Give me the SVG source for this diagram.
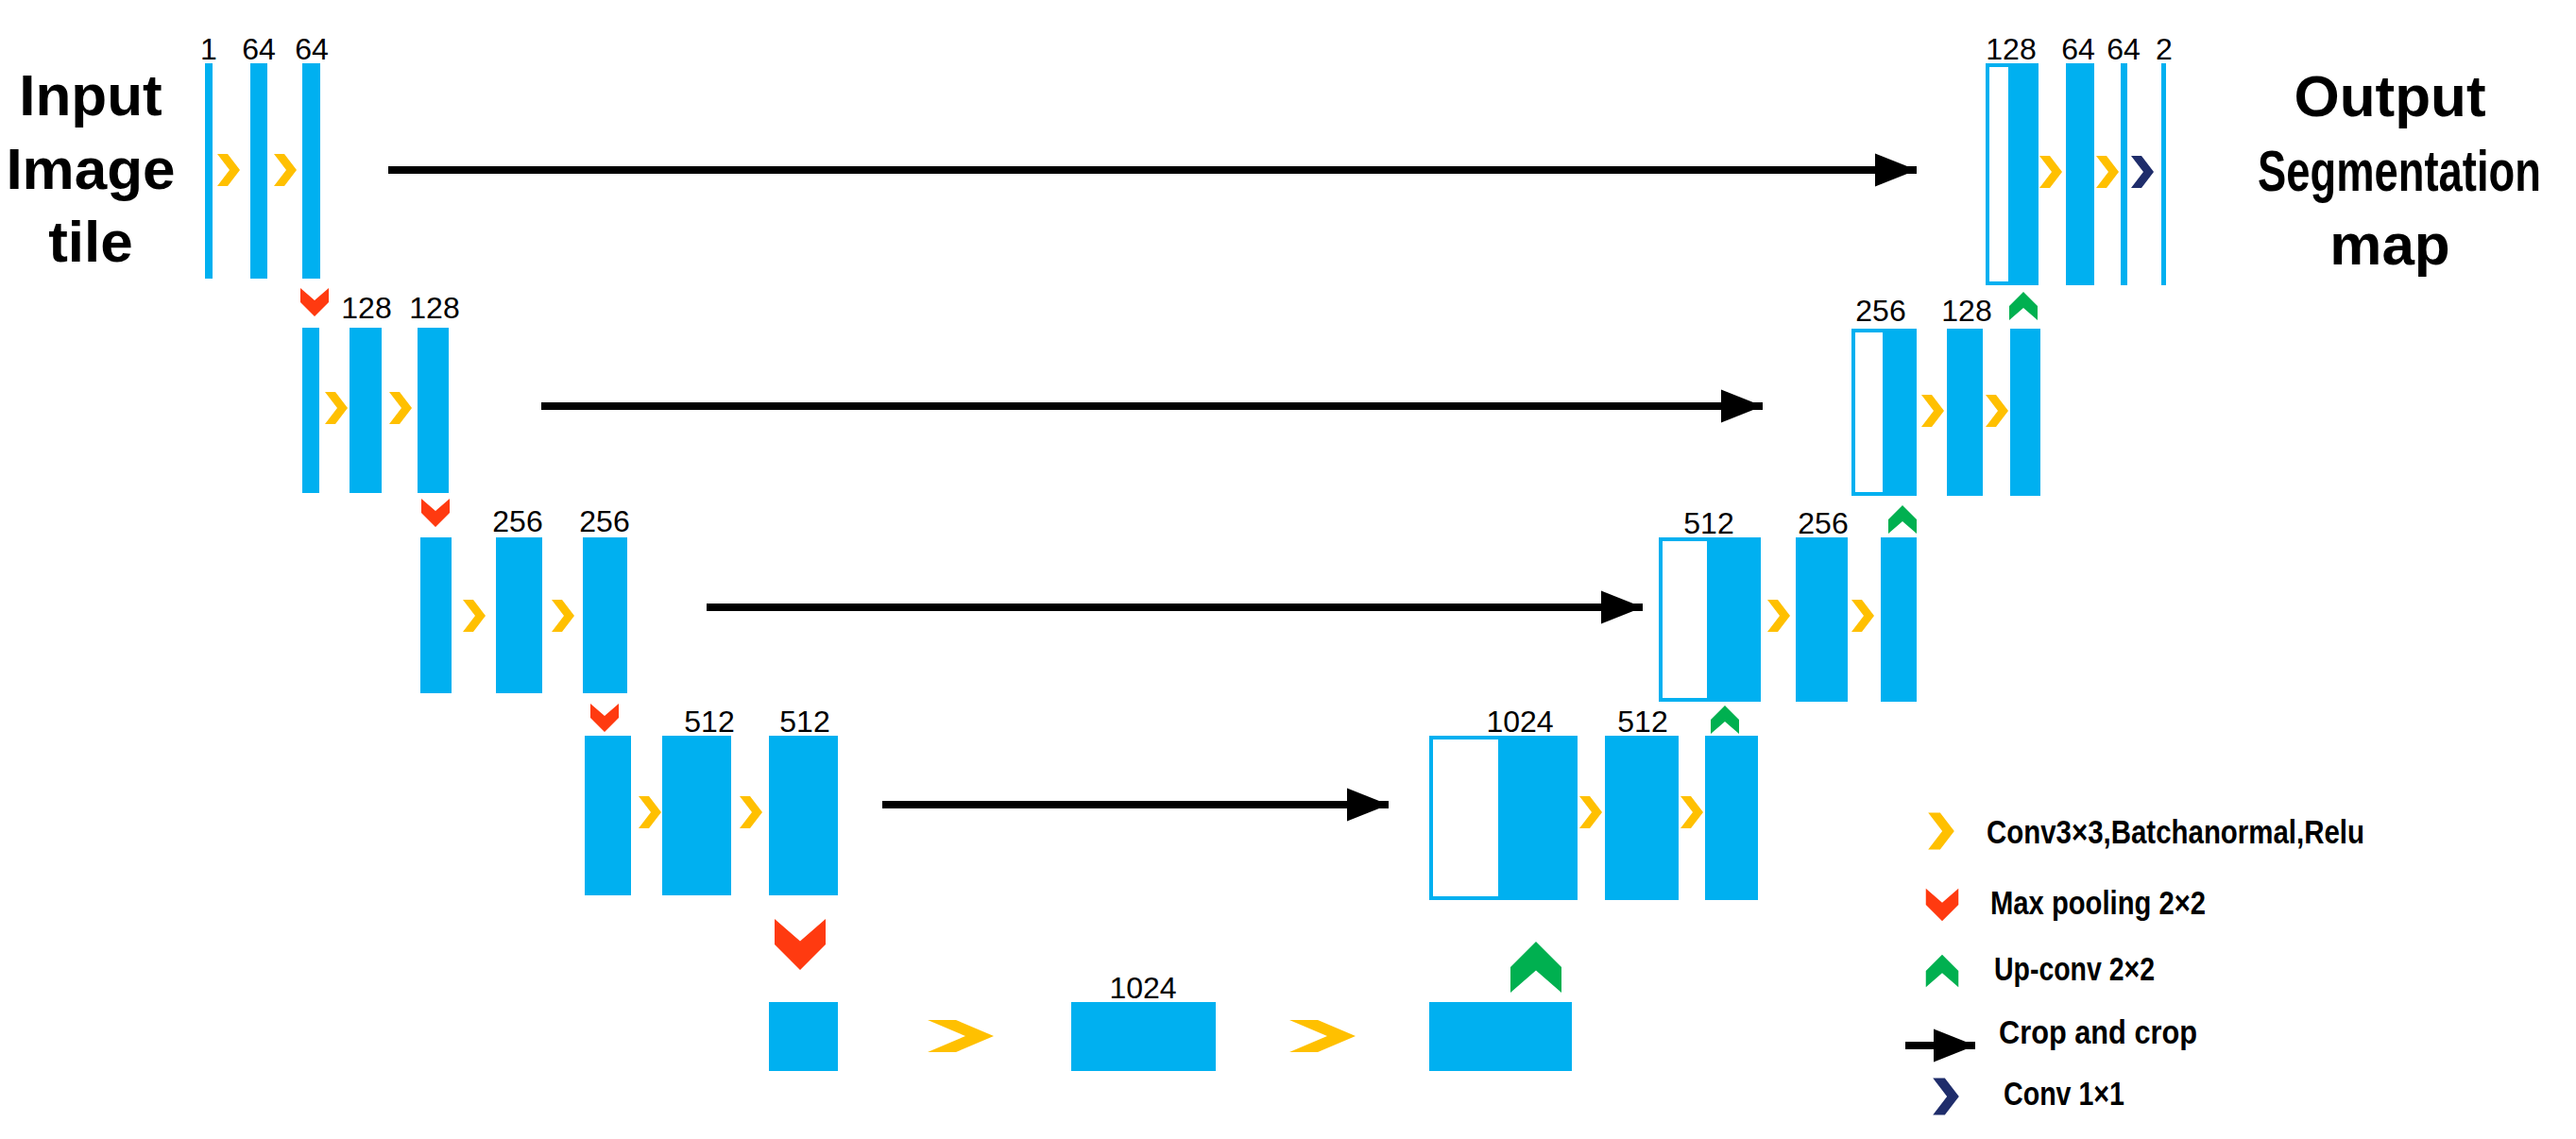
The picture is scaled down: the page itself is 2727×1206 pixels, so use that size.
<svg xmlns="http://www.w3.org/2000/svg" width="2727" height="1206" viewBox="0 0 2727 1206">
<style>
.b{fill:#00b0f0}
.o{fill:#fff;stroke:#00b0f0;stroke-width:4}
.n{font-family:"Liberation Sans",Arial,sans-serif;font-size:32px;fill:#000;text-anchor:middle}
.t{font-family:"Liberation Sans",Arial,sans-serif;font-size:62px;font-weight:bold;fill:#000;text-anchor:middle}
.l{font-family:"Liberation Sans",Arial,sans-serif;font-size:35px;font-weight:bold;fill:#000}
.c{stroke:#000;stroke-width:8;fill:none;stroke-linecap:butt}
</style>
<defs>
<path id="y" d="M-12,-17 L-1,-17 L12,0 L-1,17 L-12,17 L1,0 Z" fill="#ffc000"/>
<path id="yw" d="M-35,-17 L-5,-17 L35,0 L-5,17 L-35,17 L5,0 Z" fill="#ffc000"/>
<path id="nv" d="M-12,-17 L-1,-17 L12,0 L-1,17 L-12,17 L1,0 Z" fill="#1f2d6b"/>
<path id="r" d="M-15,-15 L0,-2 L15,-15 L15,0 L0,15 L-15,0 Z" fill="#ff3a10"/>
<path id="g" d="M-15,15 L0,2 L15,15 L15,0 L0,-15 L-15,0 Z" fill="#00b050"/>
<marker id="ah" markerWidth="5.5" markerHeight="4.4" refX="5.5" refY="2.2" orient="auto" markerUnits="strokeWidth"><path d="M0,0 L5.5,2.2 L0,4.4 Z" fill="#000"/></marker>
</defs>
<g id="titles">
<text class="t" x="96" y="122">Input</text>
<text class="t" x="96" y="200">Image</text>
<text class="t" x="96" y="277">tile</text>
<text class="t" x="2530" y="123">Output</text>
<text class="t" x="2540" y="202" textLength="300" lengthAdjust="spacingAndGlyphs">Segmentation</text>
<text class="t" x="2530" y="280">map</text>
</g>
<g id="connectors">
<line class="c" x1="411" y1="180" x2="2029" y2="180" marker-end="url(#ah)"/>
<line class="c" x1="573" y1="430" x2="1866" y2="430" marker-end="url(#ah)"/>
<line class="c" x1="748" y1="643" x2="1739" y2="643" marker-end="url(#ah)"/>
<line class="c" x1="934" y1="852" x2="1470" y2="852" marker-end="url(#ah)"/>
</g>
<g id="level1">
<rect class="b" x="217" y="67" width="8" height="228"/>
<rect class="b" x="265" y="67" width="18" height="228"/>
<rect class="b" x="320" y="67" width="19" height="228"/>
<use href="#y" x="242" y="180"/><use href="#y" x="302" y="180"/>
<text class="n" x="221" y="63">1</text><text class="n" x="274" y="63">64</text><text class="n" x="330" y="63">64</text>
<use href="#r" x="333" y="320"/>
</g>
<g id="level2">
<rect class="b" x="320" y="347" width="18" height="175"/>
<rect class="b" x="370" y="347" width="34" height="175"/>
<rect class="b" x="442" y="347" width="33" height="175"/>
<use href="#y" x="356" y="432"/><use href="#y" x="424" y="432"/>
<text class="n" x="388" y="337">128</text><text class="n" x="460" y="337">128</text>
<use href="#r" x="461" y="543"/>
</g>
<g id="level3">
<rect class="b" x="445" y="569" width="33" height="165"/>
<rect class="b" x="525" y="569" width="49" height="165"/>
<rect class="b" x="617" y="569" width="47" height="165"/>
<use href="#y" x="502" y="652"/><use href="#y" x="596" y="652"/>
<text class="n" x="548" y="563">256</text><text class="n" x="640" y="563">256</text>
<use href="#r" x="640" y="760"/>
</g>
<g id="level4">
<rect class="b" x="619" y="779" width="49" height="169"/>
<rect class="b" x="701" y="779" width="73" height="169"/>
<rect class="b" x="814" y="779" width="73" height="169"/>
<use href="#y" x="688" y="860"/><use href="#y" x="795" y="860"/>
<text class="n" x="751" y="775">512</text><text class="n" x="852" y="775">512</text>
<use href="#r" transform="translate(847,1000) scale(1.8)"/>
</g>
<g id="bottom">
<rect class="b" x="814" y="1061" width="73" height="73"/>
<rect class="b" x="1134" y="1061" width="153" height="73"/>
<rect class="b" x="1513" y="1061" width="151" height="73"/>
<use href="#yw" x="1017" y="1097"/><use href="#yw" x="1400" y="1097"/>
<text class="n" x="1210" y="1057">1024</text>
<use href="#g" transform="translate(1626,1024) scale(1.8)"/>
</g>
<g id="up4">
<rect class="o" x="1515" y="781" width="73" height="170"/>
<rect class="b" x="1588" y="779" width="82" height="174"/>
<rect class="b" x="1699" y="779" width="78" height="174"/>
<rect class="b" x="1805" y="779" width="56" height="174"/>
<use href="#y" x="1684" y="860"/><use href="#y" x="1791" y="860"/>
<text class="n" x="1609" y="775">1024</text><text class="n" x="1739" y="775">512</text>
<use href="#g" x="1826" y="762"/>
</g>
<g id="up3">
<rect class="o" x="1758" y="571" width="51" height="170"/>
<rect class="b" x="1809" y="569" width="55" height="174"/>
<rect class="b" x="1901" y="569" width="55" height="174"/>
<rect class="b" x="1991" y="569" width="38" height="174"/>
<use href="#y" x="1883" y="652"/><use href="#y" x="1972" y="652"/>
<text class="n" x="1809" y="565">512</text><text class="n" x="1930" y="565">256</text>
<use href="#g" x="2014" y="550"/>
</g>
<g id="up2">
<rect class="o" x="1962" y="350" width="33" height="173"/>
<rect class="b" x="1995" y="348" width="34" height="177"/>
<rect class="b" x="2061" y="348" width="38" height="177"/>
<rect class="b" x="2128" y="348" width="32" height="177"/>
<use href="#y" x="2046" y="435"/><use href="#y" x="2114" y="435"/>
<text class="n" x="1991" y="340">256</text><text class="n" x="2082" y="340">128</text>
<use href="#g" x="2142" y="324"/>
</g>
<g id="up1">
<rect class="o" x="2104" y="69" width="24" height="231"/>
<rect class="b" x="2128" y="67" width="30" height="235"/>
<rect class="b" x="2187" y="67" width="30" height="235"/>
<rect class="b" x="2245" y="67" width="7" height="235"/>
<rect class="b" x="2288" y="67" width="5" height="235"/>
<use href="#y" x="2171" y="182"/><use href="#y" x="2231" y="182"/><use href="#nv" x="2268" y="182"/>
<text class="n" x="2129" y="63">128</text><text class="n" x="2200" y="63">64</text><text class="n" x="2248" y="63">64</text><text class="n" x="2291" y="63">2</text>
</g>
<g id="legend">
<use href="#y" transform="translate(2055,880) scale(1.15)"/>
<text class="l" x="2103" y="893" textLength="400" lengthAdjust="spacingAndGlyphs">Conv3×3,Batchanormal,Relu</text>
<use href="#r" transform="translate(2056,958) scale(1.15)"/>
<text class="l" x="2107" y="968" textLength="228" lengthAdjust="spacingAndGlyphs">Max pooling 2×2</text>
<use href="#g" transform="translate(2056,1028) scale(1.15)"/>
<text class="l" x="2111" y="1038" textLength="170" lengthAdjust="spacingAndGlyphs">Up-conv 2×2</text>
<line class="c" x1="2017" y1="1107" x2="2091" y2="1107" marker-end="url(#ah)"/>
<text class="l" x="2116" y="1105" textLength="210" lengthAdjust="spacingAndGlyphs">Crop and crop</text>
<use href="#nv" transform="translate(2060,1161) scale(1.15)"/>
<text class="l" x="2121" y="1170" textLength="128" lengthAdjust="spacingAndGlyphs">Conv 1×1</text>
</g>
</svg>
